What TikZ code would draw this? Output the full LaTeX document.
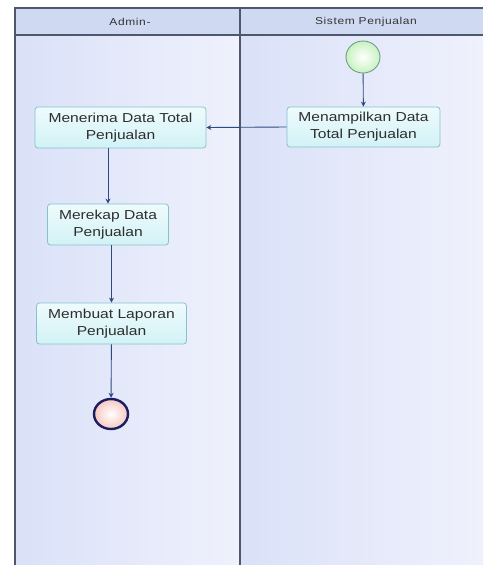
\documentclass[tikz,border=0pt]{standalone}
\usepackage{fontspec}
\setmainfont{Liberation Sans}[FakeStretch=1.2]
\newfontfamily\laneheadfont{Liberation Sans}[FakeStretch=1.2,LetterSpace=6]
\usetikzlibrary{shapes.geometric,arrows.meta}
\definecolor{laneline}{HTML}{4E586C}
\definecolor{headfill}{HTML}{CFDAF2}
\definecolor{lanedark}{HTML}{DAE1F8}
\definecolor{lanelight}{HTML}{EFF1FC}
\definecolor{boxtop}{HTML}{EEFBFC}
\definecolor{boxbottom}{HTML}{D2F2F6}
\definecolor{boxline}{HTML}{86C2CC}
\definecolor{flow}{HTML}{2C4A80}
\definecolor{startfill}{HTML}{C8F2C0}
\definecolor{startline}{HTML}{6E9E86}
\definecolor{endfill}{HTML}{F6C8C0}
\definecolor{endline}{HTML}{1C1C62}
\tikzset{
  actbox/.style={draw=boxline, line width=0.8pt, top color=boxtop, bottom color=boxbottom,
    rounded corners=3pt, align=center, inner sep=2pt,
    font=\fontsize{13}{17}\selectfont, text=black!82},
  lanehead/.style={font=\laneheadfont\fontsize{10}{12}\selectfont, text=black!80},
  flowline/.style={draw=flow, line width=0.9pt, -{Stealth[length=5pt,width=5pt]}},
}
\begin{document}
\begin{tikzpicture}[x=1pt,y=-1pt]
\useasboundingbox (0,0) rectangle (483,565);
\fill[white] (0,0) rectangle (483,565);
% swimlane bodies
\shade[left color=lanedark, right color=lanelight] (15,35) rectangle (240,565);
\shade[left color=lanedark, right color=lanelight] (240,35) rectangle (483,565);
% header row
\fill[headfill] (15,8) rectangle (483,35);
\draw[laneline, line width=1.2pt] (15,565) -- (15,8) -- (483,8);
\draw[laneline, line width=1.2pt] (15,35) -- (483,35);
\draw[laneline, line width=1.4pt] (240,8) -- (240,565);
\node[lanehead] (hadmin) at (130,22) {Admin-};
\node[lanehead] (hsys) at (366,22) {Sistem Penjualan};
% activities
\node[draw=startline, line width=0.9pt, inner color=white, outer color=startfill, ellipse,
  minimum width=34pt, minimum height=32pt, inner sep=0pt] (start) at (363,57) {};
\node[actbox, minimum width=153pt, minimum height=40pt] (tampil) at (363.5,127) {Menampilkan Data\\Total Penjualan};
\node[actbox, minimum width=171pt, minimum height=41pt] (terima) at (120.5,127.5) {Menerima Data Total\\Penjualan};
\node[actbox, minimum width=121pt, minimum height=41pt] (rekap) at (108,224.5) {Merekap Data\\Penjualan};
\node[actbox, minimum width=150pt, minimum height=41pt] (buat) at (111.5,323.5) {Membuat Laporan\\Penjualan};
\node[draw=endline, line width=2.4pt, inner color=white, outer color=endfill, ellipse,
  minimum width=34pt, minimum height=30pt, inner sep=0pt] (stop) at (111,414) {};
% control flow
\draw[flowline] (start) -- (tampil);
\draw[flowline] (tampil.west) -- (terima.east);
\draw[flowline] (rekap |- terima.south) -- (rekap.north);
\draw[flowline] (buat |- rekap.south) -- (buat.north);
\draw[flowline] (buat) -- (stop);
\end{tikzpicture}
\end{document}
